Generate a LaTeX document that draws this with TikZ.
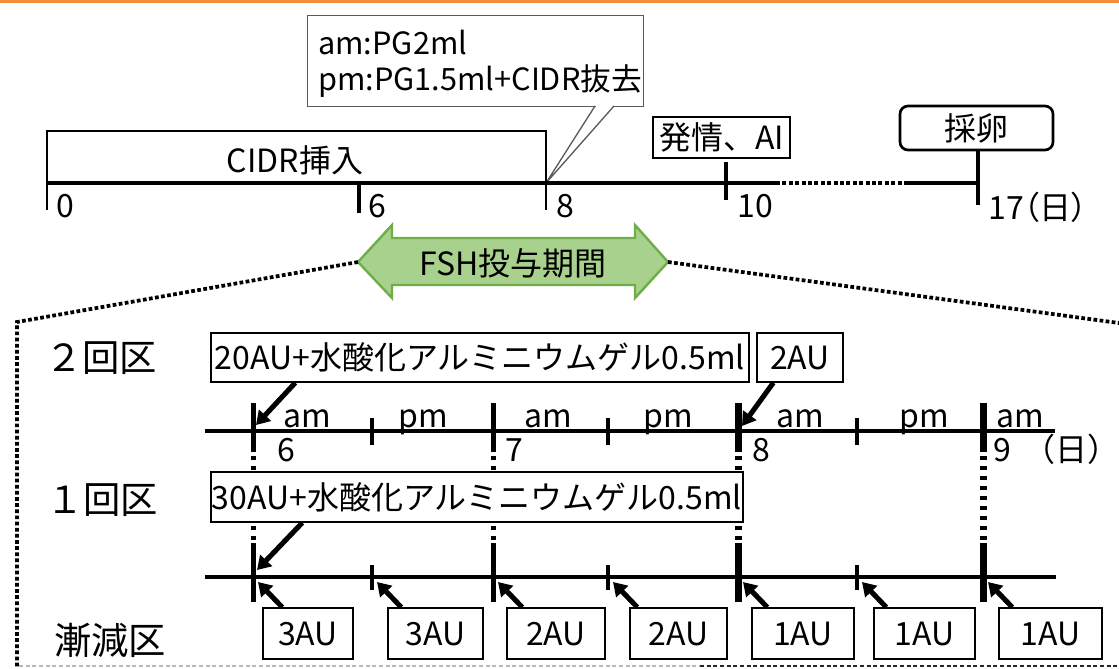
\documentclass[tikz,border=0pt]{standalone}
\usepackage{fontspec}
\setmainfont{Noto Sans CJK JP}
\newfontfamily\jpp{Noto Sans CJK JP}[RawFeature=+palt]
\usetikzlibrary{arrows.meta}
\definecolor{orangebar}{RGB}{242,140,60}
\definecolor{fshfill}{RGB}{169,209,142}
\definecolor{fshdraw}{RGB}{112,173,71}
\definecolor{callgray}{RGB}{90,90,90}
\begin{document}
\begin{tikzpicture}[x=0.75pt,y=-0.75pt,
  every node/.style={inner sep=0pt, font=\fontsize{24}{28}\selectfont},
  box/.style={draw=black, line width=1pt, fill=white},
  bigl/.style={font=\fontsize{28}{32}\selectfont},
  calltxt/.style={font=\fontsize{23}{27}\selectfont},
  tl/.style={line width=3.4pt},
  toptl/.style={line width=2.6pt},
  minor/.style={line width=2.6pt},
  dotl/.style={line width=2.8pt, dash pattern=on 2.8pt off 1.8pt},
  arr/.style={line width=3.8pt, -{Triangle[length=10pt,width=12pt]}},
]
\useasboundingbox (0,0) rectangle (1119,668);
% orange bar
\fill[orangebar] (0,0) rectangle (1119,3);

% callout
\node[draw=callgray, line width=1pt, fill=white, minimum width=252pt, minimum height=68.25pt, anchor=north west] (call) at (307,15) {};
\fill[white] (596,103) rectangle (613,109);
\coordinate (calltip) at (546,183);
\draw[callgray, line width=1pt] (595,106) -- (calltip) -- (614,106);
\node[calltxt, anchor=base west] (am1) at (318,54) {am:PG2ml};
\node[calltxt, anchor=base west] (pm1) at (318,90) {pm:PG1.5ml+CIDR抜去};

% CIDR box and top timeline
\draw[line width=2.2pt] (47,210) -- (47,131) -- (546,131) -- (546,210);
\node (cidr) at (295,160) {CIDR挿入};
\draw[toptl] (47,183) -- (776,183);
\draw[line width=2.4pt, dash pattern=on 3pt off 1.8pt] (776,183) -- (905,183);
\draw[toptl] (905,183) -- (978,183);
\draw[toptl] (359,183) -- (359,213);
\node[box, line width=1.2pt, minimum width=102.75pt, minimum height=30.75pt] (hatsu) at (721.5,137.5) {発情、AI};
\draw[toptl] (726,162) -- (726,200);
\node[box, line width=2pt, rounded corners=6pt, minimum width=114.75pt, minimum height=33pt] (sairan) at (976.5,128) {採卵};
\draw[toptl] (sairan.south) ++(1.125pt,0) -- (978,205);
\node[anchor=base west] (d0) at (56,217) {0};
\node[anchor=base west] (d6) at (368,217) {6};
\node[anchor=base west] (d8) at (556,217) {8};
\node[anchor=base west] (d10) at (737,217) {10};
\node[anchor=base west] (d17) at (988,219) {17{\jpp（日）}};

% FSH arrow
\draw[fill=fshfill, draw=fshdraw, line width=1.8pt, line join=miter]
  (358,262) -- (392,225) -- (392,238) -- (635,238) -- (635,225) -- (668,262)
  -- (635,298) -- (635,285) -- (392,285) -- (392,298) -- cycle;
\node (fsh) at (513,263) {FSH投与期間};
\draw[dotl] (358,262) -- (17,322) -- (17,668);
\draw[dotl] (668,262) -- (1119,323);
\draw[gray!55, line width=1.5pt, dash pattern=on 3pt off 2pt] (19,666) -- (700,666);
\draw[black!85, line width=1.5pt, dash pattern=on 3pt off 2pt] (700,666) -- (1119,666);

% left labels
\node[bigl] (l2) at (101,358) {２回区};
\node[bigl] (l1) at (102,500) {１回区};
\node[bigl] (l0) at (110,640) {漸減区};

% vertical day lines
\foreach \x/\w in {253/3.75pt, 493/3.75pt, 738/5.25pt, 983/5.25pt} {
  \draw[line width=\w] (\x,403) -- (\x,452);
  \draw[line width=\w, dash pattern=on 3pt off 4.5pt] (\x,456) -- (\x,540);
  \draw[line width=\w] (\x,543) -- (\x,602);
}
% timelines
\draw[tl] (205,431) -- (1055,431);
\draw[tl] (205,577) -- (1056,577);
\foreach \x in {372,608,857} {
  \draw[minor] (\x,418) -- (\x,445);
  \draw[minor] (\x,565) -- (\x,590);
}
% am/pm labels
\foreach \x/\t [count=\i] in {307/am,423/pm,548/am,668/pm,800/am,924/pm,1020/am} {
  \node[anchor=base] (ap\i) at (\x,427) {\t};
}
\node[anchor=base west] (n6) at (277,461) {6};
\node[anchor=base west] (n7) at (505,461) {7};
\node[anchor=base west] (n8) at (752,461) {8};
\node[anchor=base west] (n9) at (993,461) {9\hspace{9pt}（日）};

% boxes
\node[box, minimum width=403.5pt, minimum height=36.75pt] (b20) at (480,357.5) {20AU+水酸化アルミニウムゲル0.5ml};
\node[box, minimum width=64.5pt, minimum height=36.75pt] (b2) at (800,357.5) {2AU};
\node[box, minimum width=399pt, minimum height=37.5pt] (b30) at (477,497) {30AU+水酸化アルミニウムゲル0.5ml};

\coordinate (t20) at (256,425);
\coordinate (t2) at (742,426);
\coordinate (t30) at (257,570);
\draw[arr] ([xshift=63.75pt]b20.south west) -- (t20);
\draw[arr] ([xshift=12.75pt]b2.south west) -- (t2);
\draw[arr] ([xshift=69pt]b30.south west) -- (t30);

% tapering boxes
\foreach \c/\w/\t/\tick/\off [count=\i] in {
  308/67.5pt/3AU/253/15pt,
  435.5/71.25pt/3AU/372/10.5pt,
  556/73.5pt/2AU/493/12pt,
  678.5/72.75pt/2AU/608/6pt,
  803/76.5pt/1AU/738/12pt,
  924.5/75.75pt/1AU/857/9.75pt,
  1050.5/77.25pt/1AU/983/10.5pt} {
  \node[box, minimum width=\w, minimum height=38.25pt] (g\i) at (\c,633.5) {\t};
  \coordinate (gt\i) at (\tick+5,582);
  \draw[arr] ([xshift=\off]g\i.north west) -- (gt\i);
}
\end{tikzpicture}
\end{document}
